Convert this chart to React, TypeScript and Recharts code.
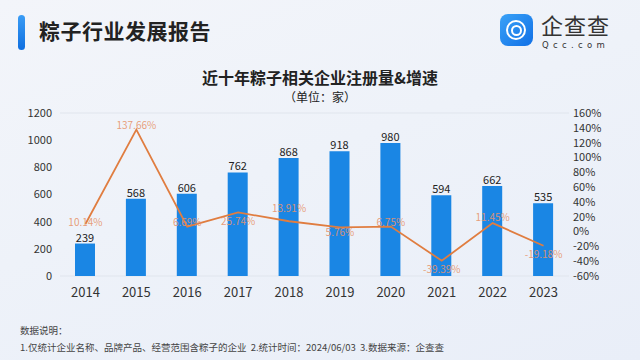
import React from "react";
import {
  ComposedChart,
  Bar,
  Line,
  XAxis,
  YAxis,
  CartesianGrid,
  LabelList,
} from "recharts";

// 年份
const years = ["2014", "2015", "2016", "2017", "2018", "2019", "2020", "2021", "2022", "2023"];
// 注册量（家）
const registrations = [239, 568, 606, 762, 868, 918, 980, 594, 662, 535];
// 增速（%）
const growthRates = [10.14, 137.66, 6.69, 25.74, 13.91, 5.76, 6.75, -39.39, 11.45, -19.18];
// 坐标轴刻度
const leftTicks = [0, 200, 400, 600, 800, 1000, 1200];
const rightTicks = [-60, -40, -20, 0, 20, 40, 60, 80, 100, 120, 140, 160];

const data = years.map((y, i) => ({
  year: y,
  count: registrations[i],
  rate: growthRates[i],
}));

const FONT = '"Noto Sans CJK SC", "Noto Sans", sans-serif';
const BAR_COLOR = "#1a86e4";
const LINE_COLOR = "#e07d40";

// 增速标签：上下错开避免重叠
const RateLabel = (props: any) => {
  const { x, y, value, index } = props;
  const dyList = [-1, -3, -3, 10, -12, 6, -3, 10, -5, 10];
  return (
    <text
      x={x}
      y={y + dyList[index]}
      textAnchor="middle"
      dominantBaseline="middle"
      fill="#e6936a"
      fillOpacity={0.9}
      fontSize={10}
      fontFamily={FONT}
    >
      {value.toFixed(2)}%
    </text>
  );
};

export default function App() {
  return (
    <div
      style={{
        position: "fixed",
        left: 0,
        top: 0,
        width: 640,
        height: 360,
        overflow: "hidden",
        background: "linear-gradient(160deg, #f3f5fa 0%, #eef2f9 45%, #e9eef8 100%)",
        fontFamily: FONT,
      }}
    >
      {/* 左上角标题 */}
      <div
        style={{
          position: "absolute",
          left: 18,
          top: 15,
          width: 7,
          height: 35,
          borderRadius: 4,
          background: "linear-gradient(180deg, #3a9cf5, #0f6fe0)",
        }}
      />
      <div
        style={{
          position: "absolute",
          left: 39,
          top: 17,
          fontSize: 21,
          fontWeight: 700,
          color: "#222",
          letterSpacing: 0.5,
          lineHeight: "26px",
        }}
      >
        粽子行业发展报告
      </div>

      {/* 企查查 logo */}
      <div
        style={{
          position: "absolute",
          left: 500,
          top: 14,
          width: 33,
          height: 32,
          borderRadius: 8,
          background: "linear-gradient(135deg, #3aa2f7, #1170e6)",
        }}
      >
        <div
          style={{
            position: "absolute",
            left: 6,
            top: 6,
            width: 16,
            height: 16,
            borderRadius: "50%",
            border: "2.5px solid #fff",
          }}
        />
        <div
          style={{
            position: "absolute",
            left: 11,
            top: 11,
            width: 7,
            height: 7,
            borderRadius: "50%",
            border: "2px solid #fff",
          }}
        />
      </div>
      <div
        style={{
          position: "absolute",
          left: 541,
          top: 11,
          fontSize: 22,
          color: "#333",
          lineHeight: "26px",
          letterSpacing: 1,
        }}
      >
        企查查
      </div>
      <div
        style={{
          position: "absolute",
          left: 542,
          top: 40,
          fontSize: 8.5,
          color: "#333",
          letterSpacing: 4.3,
          lineHeight: "10px",
          fontFamily: '"DejaVu Sans", sans-serif',
        }}
      >
        Qcc.com
      </div>

      {/* 图表标题 */}
      <div
        style={{
          position: "absolute",
          left: 0,
          width: 640,
          top: 67,
          textAlign: "center",
          fontSize: 16,
          fontWeight: 700,
          color: "#222",
          lineHeight: "20px",
        }}
      >
        近十年粽子相关企业注册量&amp;增速
      </div>
      <div
        style={{
          position: "absolute",
          left: 0,
          width: 640,
          top: 89,
          textAlign: "center",
          fontSize: 12,
          color: "#222",
          lineHeight: "15px",
        }}
      >
        （单位：家）
      </div>

      <div style={{ position: "absolute", left: 0, top: 0 }}>
        <ComposedChart
          width={640}
          height={360}
          data={data}
          margin={{ top: 113, right: 11, bottom: 54, left: 10 }}
          barCategoryGap="30%"
        >
          <CartesianGrid vertical={false} stroke="#e0e5ed" />
          <XAxis
            dataKey="year"
            axisLine={false}
            tickLine={false}
            height={30}
            tick={{ fill: "#333", fontSize: 13, fontFamily: FONT }}
            tickMargin={6}
          />
          <YAxis
            yAxisId="left"
            domain={[0, 1200]}
            ticks={leftTicks}
            interval={0}
            width={50}
            axisLine={false}
            tickLine={false}
            tick={{ fill: "#333", fontSize: 11, fontFamily: FONT }}
          />
          <YAxis
            yAxisId="right"
            orientation="right"
            domain={[-60, 160]}
            ticks={rightTicks}
            interval={0}
            width={60}
            tickSize={4}
            tickMargin={0}
            axisLine={false}
            tickLine={false}
            tickFormatter={(v: number) => `${v}%`}
            tick={{ fill: "#333", fontSize: 11, fontFamily: FONT }}
          />
          <Bar
            yAxisId="left"
            dataKey="count"
            fill={BAR_COLOR}
            barSize={20}
            isAnimationActive={false}
          >
            <LabelList
              dataKey="count"
              position="top"
              offset={2}
              fill="#222"
              fontSize={11}
              fontFamily={FONT}
            />
          </Bar>
          <Line
            yAxisId="right"
            dataKey="rate"
            stroke={LINE_COLOR}
            strokeWidth={1.8}
            dot={false}
            type="linear"
            isAnimationActive={false}
          >
            <LabelList dataKey="rate" content={<RateLabel />} />
          </Line>
        </ComposedChart>
      </div>

      {/* 数据说明 */}
      <div
        style={{
          position: "absolute",
          left: 20,
          top: 323,
          fontSize: 9.5,
          color: "#444",
          lineHeight: "14px",
        }}
      >
        数据说明：
      </div>
      <div
        style={{
          position: "absolute",
          left: 20,
          top: 340,
          fontSize: 9.5,
          color: "#444",
          lineHeight: "14px",
          whiteSpace: "pre",
        }}
      >
        {"1.仅统计企业名称、品牌产品、经营范围含粽子的企业  2.统计时间：2024/06/03  3.数据来源：企查查"}
      </div>
    </div>
  );
}
